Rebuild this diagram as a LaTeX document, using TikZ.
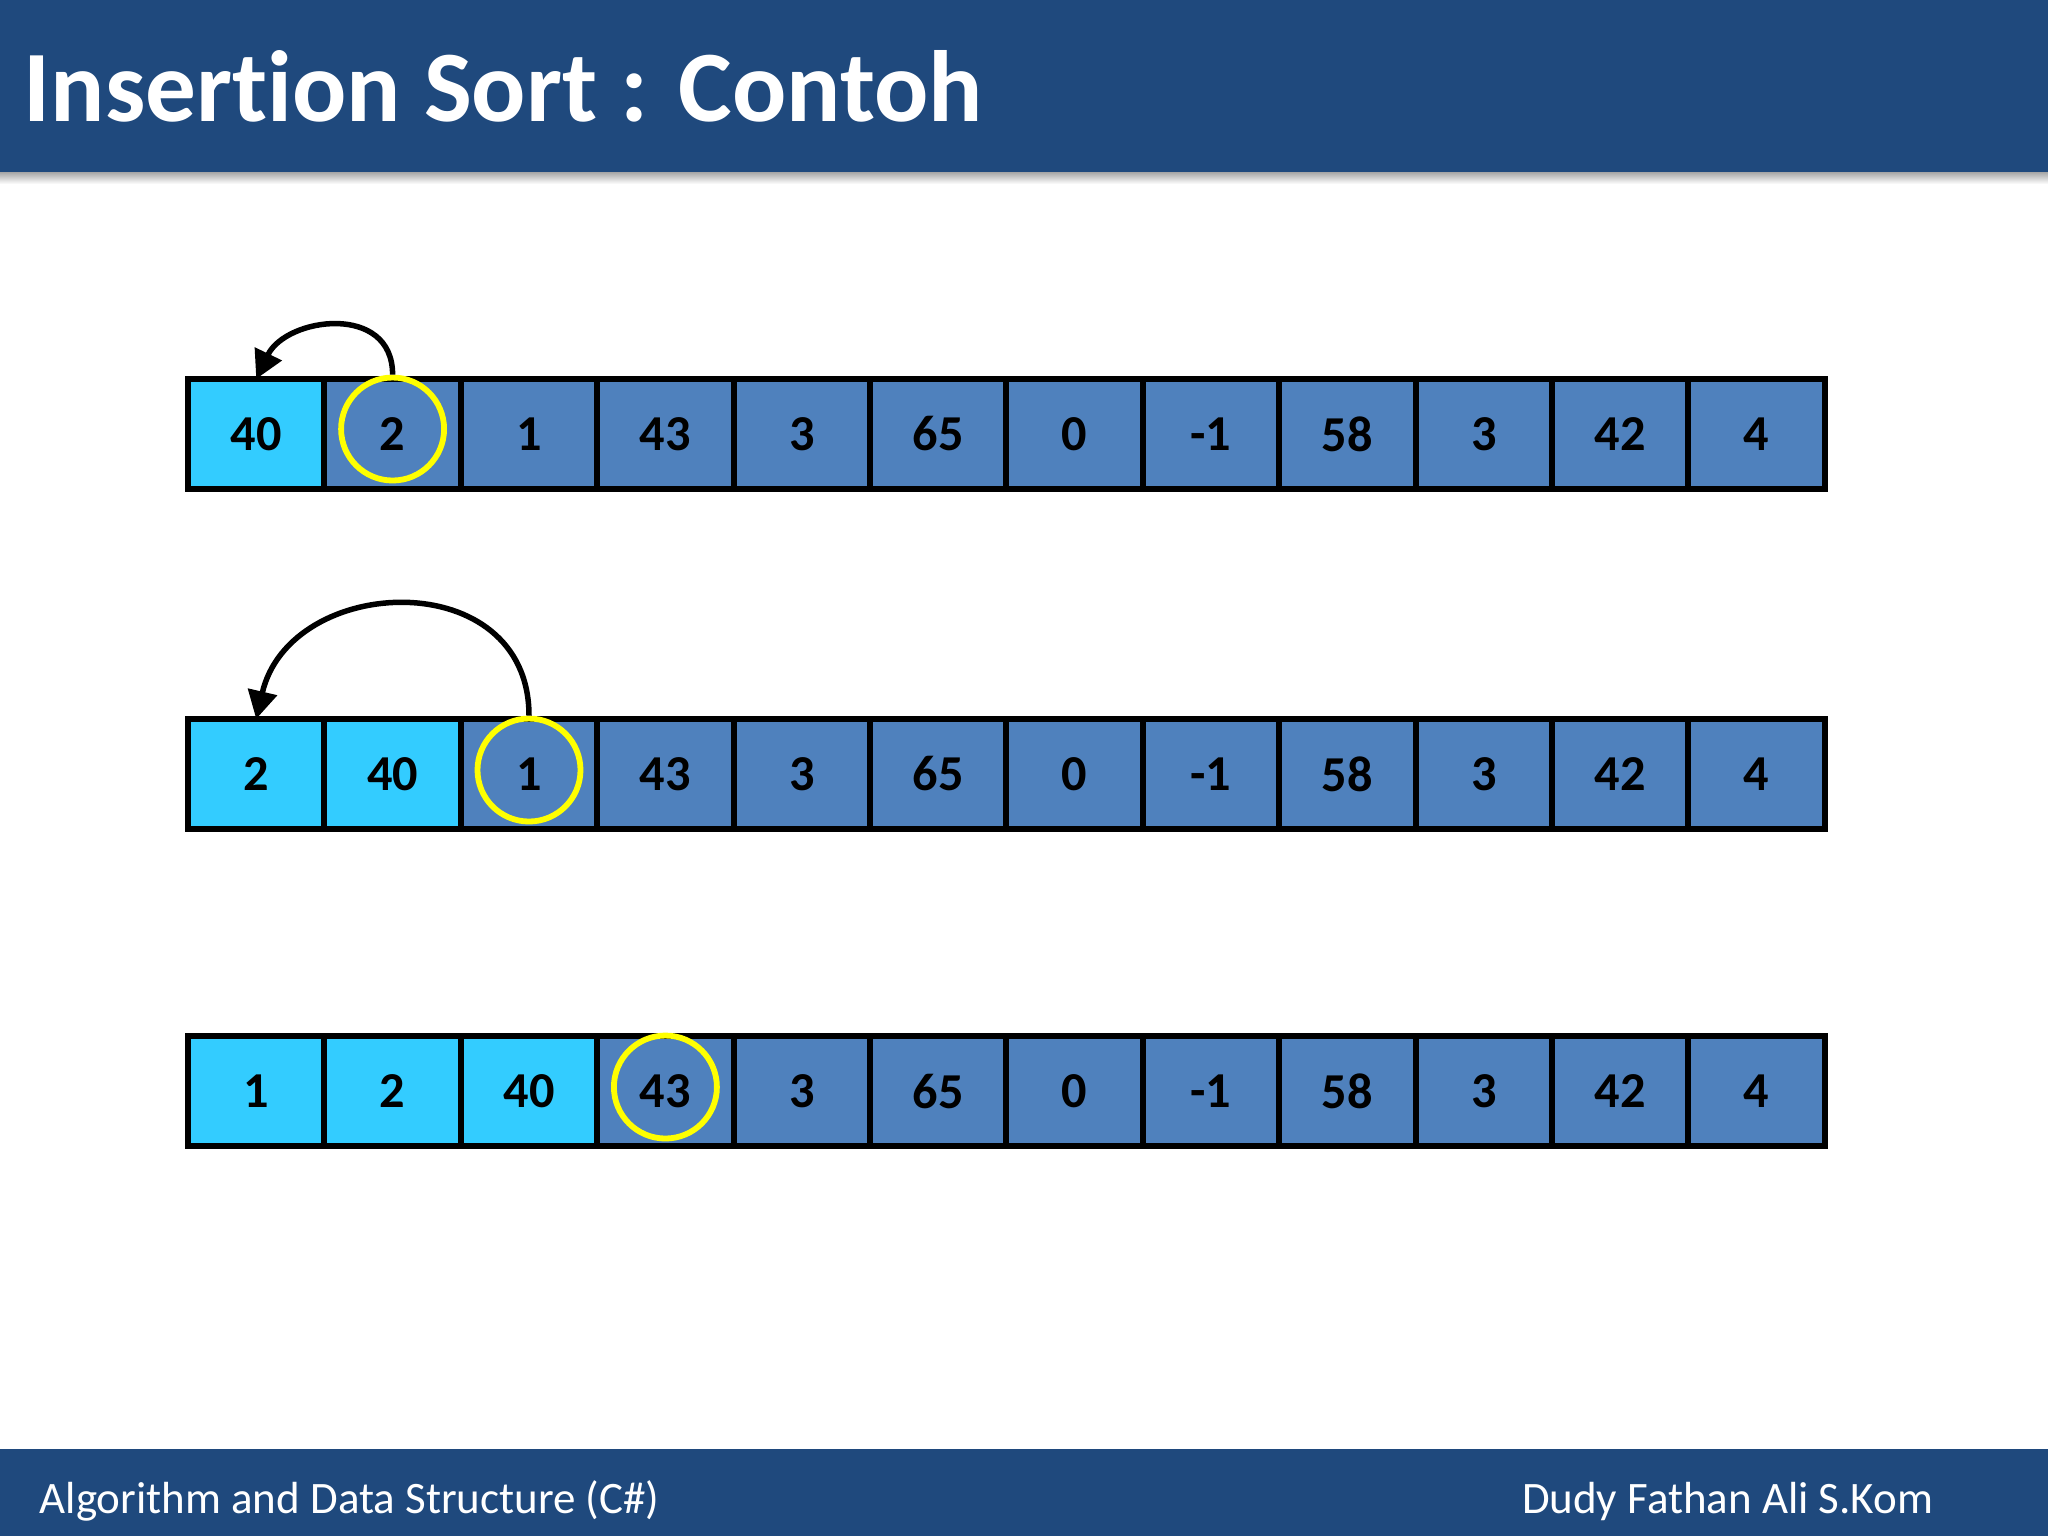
\documentclass[tikz,border=0pt]{standalone}
\usepackage{fontspec}
\setmainfont{Carlito}[Ligatures=NoCommon]
\definecolor{hdrblue}{RGB}{31,73,125}
\definecolor{cellcyan}{RGB}{51,204,255}
\definecolor{cellblue}{RGB}{79,129,189}
\definecolor{keyyellow}{RGB}{255,255,0}
\usetikzlibrary{arrows.meta,positioning}

\tikzset{
  sorted/.style={draw=black, fill=cellcyan, line width=0.6mm, minimum width=13.64mm,
      minimum height=11mm, inner sep=0pt, outer sep=0pt,
      font=\fontsize{14.3}{16}\selectfont\bfseries},
  unsorted/.style={sorted, fill=cellblue},
  keymark/.style={draw=keyyellow, circle, line width=0.58mm, minimum size=10.3mm, inner sep=0pt},
  moveback/.style={-{Triangle[length=2.8mm,width=2.9mm]}, line width=0.55mm, black},
}

\begin{document}
\begin{tikzpicture}[x=0.1mm, y=-0.1mm]

\useasboundingbox (0,0) rectangle (2048,1536);
\fill[white] (0,0) rectangle (2048,1536);

% Title bar
\fill[hdrblue] (0,0) rectangle (2048,172);
\shade[top color=black!35, bottom color=white] (0,172) rectangle (2048,184);
\node[anchor=base west, text=white, inner sep=0pt,
      font=\fontsize{28.8}{34}\selectfont\bfseries] (title) at (23,121) {Insertion Sort : Contoh};

% Row 1
\foreach \v [count=\i] in {40,2,1,43,3,65,0,-1,58,3,42,4} {
  \ifnum\i<2 \def\st{sorted}\else\def\st{unsorted}\fi
  \node[\st] (a\i) at ({188+136.4*(\i-0.5)},434) {\v};
}
\node[keymark] (key1) at (a2.center) [yshift=0.5mm] {};
\draw[moveback] (key1.north) .. controls +(0,-72) and +(30,-62) .. (a1.north);

% Row 2
\foreach \v [count=\i] in {2,40,1,43,3,65,0,-1,58,3,42,4} {
  \ifnum\i<3 \def\st{sorted}\else\def\st{unsorted}\fi
  \node[\st] (b\i) at ({188+136.4*(\i-0.5)},774) {\v};
}
\node[keymark] (key2) at (b3.center) [yshift=0.4mm] {};
\draw[moveback] (key2.north) .. controls +(0,-152) and +(34,-146) .. (b1.north);

% Row 3
\foreach \v [count=\i] in {1,2,40,43,3,65,0,-1,58,3,42,4} {
  \ifnum\i<4 \def\st{sorted}\else\def\st{unsorted}\fi
  \node[\st] (c\i) at ({188+136.4*(\i-0.5)},1091) {\v};
}
\node[keymark] (key3) at (c4.center) [yshift=0.4mm] {};

% Footer bar
\fill[hdrblue] (0,1449) rectangle (2048,1536);
\node[anchor=base west, text=white, inner sep=0pt,
      font=\fontsize{12.8}{15}\selectfont] (course) at (39,1513) {Algorithm and Data Structure (C\#)};
\node[anchor=base east, text=white, inner sep=0pt,
      font=\fontsize{12.8}{15}\selectfont] (author) at (1934,1513) {Dudy Fathan Ali S.Kom};

\end{tikzpicture}
\end{document}
